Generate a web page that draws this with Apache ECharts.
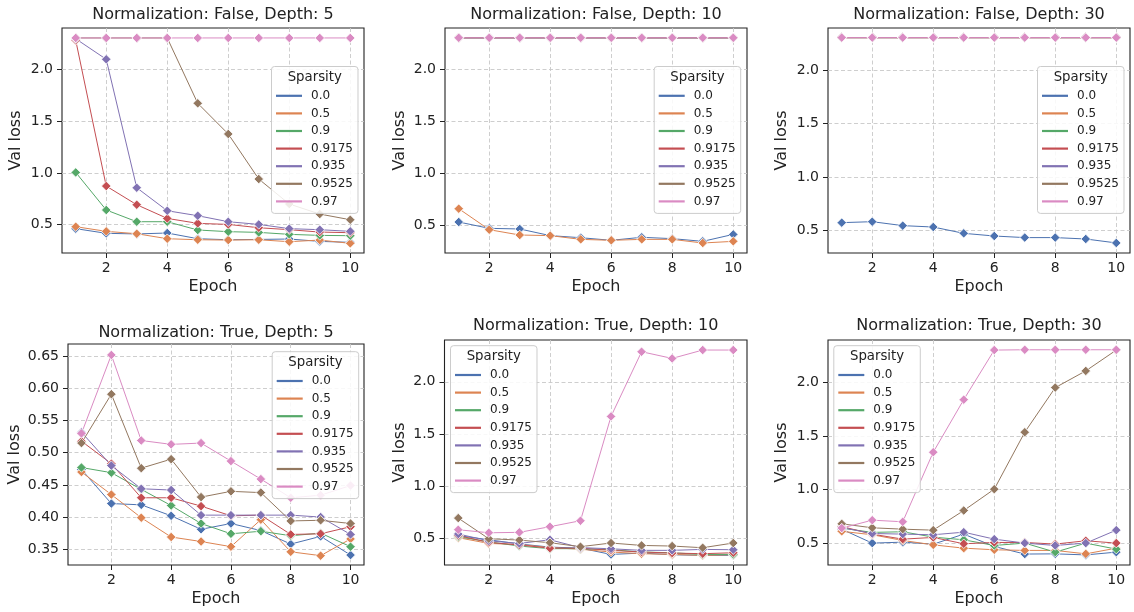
<!DOCTYPE html>
<html>
<head>
<meta charset="utf-8">
<script src="https://cdn.jsdelivr.net/npm/echarts@6/dist/echarts.min.js"></script>
<style>
html,body{margin:0;padding:0;background:#fff;}
#chart{width:1134px;height:612px;}
</style>
</head>
<body>
<div id="chart"></div>
<script>
// ---------- data ----------
const epochs = [1, 2, 3, 4, 5, 6, 7, 8, 9, 10];
const sparsity = ['0.0', '0.5', '0.9', '0.9175', '0.935', '0.9525', '0.97'];
const xTicks = [2, 4, 6, 8, 10];
const yTicksBig = [0.5, 1.0, 1.5, 2.0];
const yTicksSmall = [0.35, 0.40, 0.45, 0.50, 0.55, 0.60, 0.65];

const panelTitles = [
  'Normalization: False, Depth: 5',
  'Normalization: False, Depth: 10',
  'Normalization: False, Depth: 30',
  'Normalization: True, Depth: 5',
  'Normalization: True, Depth: 10',
  'Normalization: True, Depth: 30'
];

// series order follows `sparsity`
const lossF5 = [
  [0.462, 0.417, 0.411, 0.420, 0.365, 0.355, 0.358, 0.362, 0.339, 0.330],
  [0.481, 0.436, 0.413, 0.365, 0.355, 0.352, 0.355, 0.336, 0.352, 0.320],
  [1.005, 0.642, 0.529, 0.529, 0.449, 0.433, 0.426, 0.407, 0.397, 0.394],
  [2.280, 0.873, 0.693, 0.561, 0.513, 0.503, 0.471, 0.452, 0.429, 0.423],
  [2.295, 2.097, 0.857, 0.635, 0.587, 0.529, 0.503, 0.462, 0.452, 0.436],
  [2.303, 2.303, 2.303, 2.303, 1.672, 1.376, 0.941, 0.700, 0.603, 0.548],
  [2.303, 2.303, 2.303, 2.303, 2.303, 2.303, 2.303, 2.303, 2.303, 2.303]
];
const lossF10 = [
  [0.532, 0.471, 0.465, 0.401, 0.381, 0.356, 0.385, 0.372, 0.346, 0.413],
  [0.660, 0.458, 0.407, 0.401, 0.365, 0.356, 0.365, 0.365, 0.330, 0.346],
  [2.303, 2.303, 2.303, 2.303, 2.303, 2.303, 2.303, 2.303, 2.303, 2.303],
  [2.303, 2.303, 2.303, 2.303, 2.303, 2.303, 2.303, 2.303, 2.303, 2.303],
  [2.303, 2.303, 2.303, 2.303, 2.303, 2.303, 2.303, 2.303, 2.303, 2.303],
  [2.303, 2.303, 2.303, 2.303, 2.303, 2.303, 2.303, 2.303, 2.303, 2.303],
  [2.303, 2.303, 2.303, 2.303, 2.303, 2.303, 2.303, 2.303, 2.303, 2.303]
];
const lossF30 = [
  [0.572, 0.581, 0.544, 0.531, 0.472, 0.447, 0.432, 0.432, 0.419, 0.382],
  [2.303, 2.303, 2.303, 2.303, 2.303, 2.303, 2.303, 2.303, 2.303, 2.303],
  [2.303, 2.303, 2.303, 2.303, 2.303, 2.303, 2.303, 2.303, 2.303, 2.303],
  [2.303, 2.303, 2.303, 2.303, 2.303, 2.303, 2.303, 2.303, 2.303, 2.303],
  [2.303, 2.303, 2.303, 2.303, 2.303, 2.303, 2.303, 2.303, 2.303, 2.303],
  [2.303, 2.303, 2.303, 2.303, 2.303, 2.303, 2.303, 2.303, 2.303, 2.303],
  [2.303, 2.303, 2.303, 2.303, 2.303, 2.303, 2.303, 2.303, 2.303, 2.303]
];
const lossT5 = [
  [0.474, 0.421, 0.419, 0.402, 0.381, 0.390, 0.379, 0.358, 0.370, 0.341],
  [0.470, 0.435, 0.399, 0.369, 0.362, 0.354, 0.396, 0.346, 0.340, 0.366],
  [0.477, 0.469, 0.443, 0.418, 0.390, 0.374, 0.378, 0.371, 0.375, 0.354],
  [0.518, 0.483, 0.430, 0.430, 0.417, 0.402, 0.403, 0.373, 0.374, 0.385],
  [0.532, 0.480, 0.444, 0.442, 0.403, 0.403, 0.403, 0.403, 0.400, 0.373],
  [0.515, 0.591, 0.476, 0.490, 0.431, 0.440, 0.438, 0.394, 0.395, 0.390],
  [0.530, 0.652, 0.519, 0.513, 0.515, 0.487, 0.459, 0.430, 0.434, 0.449]
];
const lossT10 = [
  [0.530, 0.490, 0.450, 0.420, 0.410, 0.350, 0.363, 0.347, 0.341, 0.341],
  [0.510, 0.455, 0.445, 0.415, 0.400, 0.373, 0.357, 0.350, 0.341, 0.347],
  [0.520, 0.470, 0.430, 0.405, 0.405, 0.395, 0.373, 0.366, 0.350, 0.350],
  [0.530, 0.465, 0.440, 0.410, 0.410, 0.389, 0.373, 0.363, 0.357, 0.366],
  [0.545, 0.480, 0.455, 0.490, 0.415, 0.404, 0.389, 0.389, 0.398, 0.395],
  [0.697, 0.500, 0.487, 0.462, 0.424, 0.459, 0.436, 0.430, 0.414, 0.459],
  [0.586, 0.557, 0.561, 0.615, 0.672, 1.669, 2.287, 2.223, 2.303, 2.303]
];
const lossT30 = [
  [0.630, 0.500, 0.509, 0.490, 0.584, 0.469, 0.398, 0.400, 0.390, 0.416],
  [0.610, 0.578, 0.525, 0.484, 0.453, 0.438, 0.432, 0.432, 0.400, 0.453],
  [0.640, 0.600, 0.606, 0.556, 0.531, 0.478, 0.500, 0.416, 0.500, 0.444],
  [0.655, 0.584, 0.537, 0.553, 0.494, 0.506, 0.506, 0.491, 0.522, 0.500],
  [0.645, 0.590, 0.584, 0.578, 0.602, 0.537, 0.500, 0.478, 0.500, 0.621],
  [0.680, 0.643, 0.630, 0.621, 0.804, 1.003, 1.534, 1.950, 2.106, 2.300],
  [0.640, 0.714, 0.699, 1.348, 1.838, 2.300, 2.303, 2.303, 2.303, 2.303]
];

// ---------- layout & style ----------
const palette = ['#4C72B0', '#DD8452', '#55A868', '#C44E52', '#8172B3', '#937860', '#DA8BC3'];
const FONT = 'DejaVu Sans';
const INK = '#222';

const panels = [
  {data: lossF5,  grid: {left: 62,    top: 28,  width: 302,   height: 225}, y: [0.227, 2.399], ticks: yTicksBig,   dec: 1, titleY: 15,  nameGap: 38, legend: {left: 271.5,  top: 66.5}},
  {data: lossF10, grid: {left: 445,   top: 28,  width: 302,   height: 225}, y: [0.234, 2.397], ticks: yTicksBig,   dec: 1, titleY: 15,  nameGap: 37, legend: {left: 654.2,  top: 66.5}},
  {data: lossF30, grid: {left: 828,   top: 28,  width: 302,   height: 225}, y: [0.288, 2.393], ticks: yTicksBig,   dec: 1, titleY: 15,  nameGap: 38, legend: {left: 1037.5, top: 66.5}},
  {data: lossT5,  grid: {left: 68,    top: 344, width: 296,   height: 221}, y: [0.3255, 0.669], ticks: yTicksSmall, dec: 2, titleY: 333, nameGap: 45, legend: {left: 272.2,  top: 351.7}},
  {data: lossT10, grid: {left: 444.5, top: 340, width: 302.5, height: 225}, y: [0.249, 2.399], ticks: yTicksBig,   dec: 1, titleY: 326, nameGap: 37, legend: {left: 450.5,  top: 345.7}},
  {data: lossT30, grid: {left: 828,   top: 340, width: 302,   height: 225}, y: [0.296, 2.394], ticks: yTicksBig,   dec: 1, titleY: 326, nameGap: 38, legend: {left: 833.8,  top: 345.7}}
];

const grids = [], xAxes = [], yAxes = [], series = [], titles = [], legends = [];
const dashed = {show: true, lineStyle: {color: '#c8c8c8', width: 0.9, type: [4, 2.5]}};
const LEG_W = 86.5;

panels.forEach((p, i) => {
  grids.push(Object.assign({show: true, borderColor: INK, borderWidth: 1.1, backgroundColor: '#fff', containLabel: false}, p.grid));
  xAxes.push({
    type: 'value', gridIndex: i, min: 0.55, max: 10.45,
    name: 'Epoch', nameLocation: 'middle', nameGap: 26,
    nameTextStyle: {fontFamily: FONT, fontSize: 16, color: INK},
    axisLine: {show: false},
    axisTick: {show: true, length: 5, customValues: xTicks, lineStyle: {color: INK, width: 1}},
    axisLabel: {customValues: xTicks, margin: 8, fontFamily: FONT, fontSize: 14, color: INK},
    splitLine: dashed
  });
  yAxes.push({
    type: 'value', gridIndex: i, min: p.y[0], max: p.y[1],
    name: 'Val loss', nameLocation: 'middle', nameGap: p.nameGap,
    nameTextStyle: {fontFamily: FONT, fontSize: 16, color: INK},
    axisLine: {show: false},
    axisTick: {show: true, length: 5, customValues: p.ticks, lineStyle: {color: INK, width: 1}},
    axisLabel: {customValues: p.ticks, margin: 9, fontFamily: FONT, fontSize: 14, color: INK,
      formatter: v => Number(v).toFixed(p.dec)},
    splitLine: dashed
  });
  titles.push({
    text: panelTitles[i], left: p.grid.left + p.grid.width / 2, top: p.titleY - 9.5, textAlign: 'center', padding: 0,
    textStyle: {fontFamily: FONT, fontSize: 16, fontWeight: 'normal', color: INK, lineHeight: 19}
  });
  titles.push({
    text: 'Sparsity', left: p.legend.left + LEG_W / 2, top: p.legend.top + 11.2 - 8, textAlign: 'center', padding: 0, z: 20,
    textStyle: {fontFamily: FONT, fontSize: 13.3, fontWeight: 'normal', color: INK, lineHeight: 16}
  });
  legends.push({
    data: sparsity, orient: 'vertical', left: p.legend.left, top: p.legend.top,
    width: LEG_W, padding: [22.3, 5, 5, 4.5], itemGap: 3.6, itemWidth: 26, itemHeight: 2.2,
    icon: 'rect', selectedMode: false, z: 10,
    itemStyle: {borderWidth: 0},
    backgroundColor: 'rgba(255,255,255,0.85)', borderColor: '#cccccc', borderWidth: 1, borderRadius: 3,
    textStyle: {fontFamily: FONT, fontSize: 12, color: INK, lineHeight: 14, padding: [0, 0, 0, 4]}
  });
  sparsity.forEach((s, k) => {
    series.push({
      type: 'line', name: s, xAxisIndex: i, yAxisIndex: i,
      data: epochs.map((e, j) => [e, p.data[k][j]]),
      color: palette[k],
      symbol: 'diamond', symbolSize: 9.5, showAllSymbol: true,
      lineStyle: {width: 1, color: palette[k]},
      itemStyle: {color: palette[k], borderColor: '#fff', borderWidth: 0.8},
      emphasis: {disabled: true}, silent: true, z: 2
    });
  });
});

const chart = echarts.init(document.getElementById('chart'), null, {renderer: 'canvas'});
chart.setOption({
  animation: false,
  backgroundColor: '#fff',
  color: palette,
  title: titles,
  legend: legends,
  grid: grids,
  xAxis: xAxes,
  yAxis: yAxes,
  series: series
});
</script>
</body>
</html>
